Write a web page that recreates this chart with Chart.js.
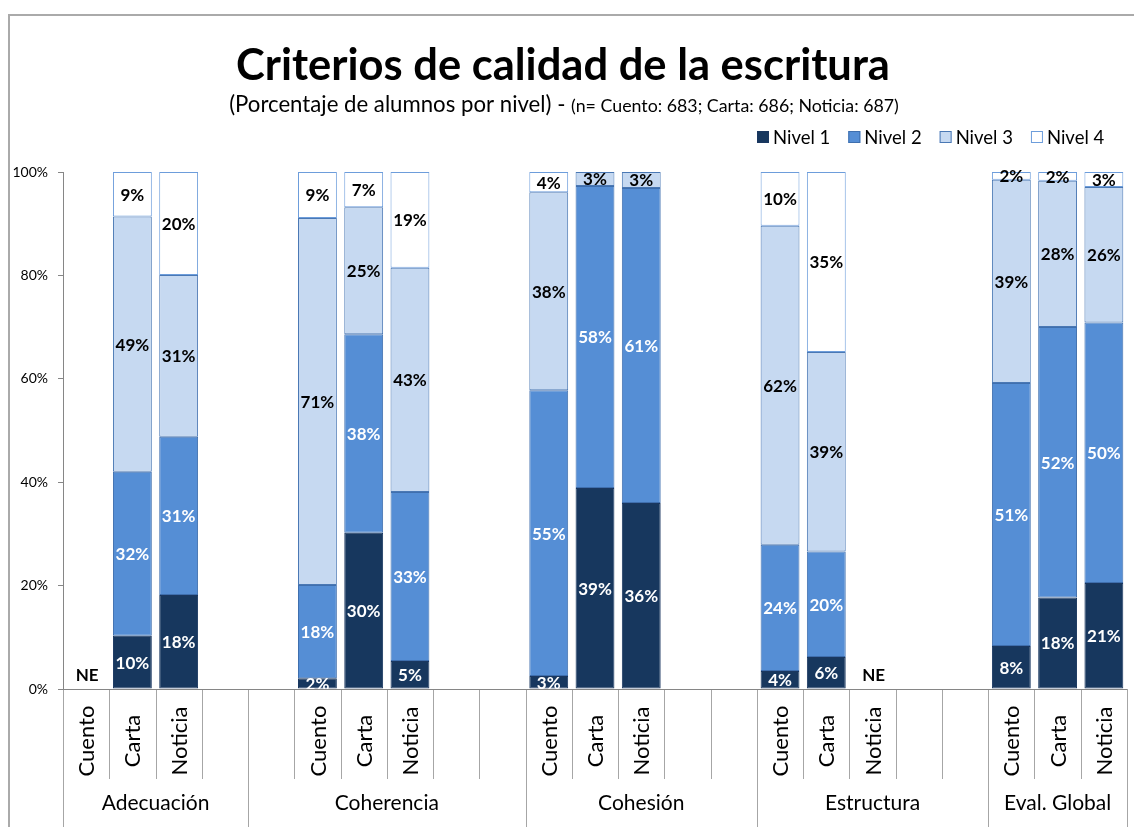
<!DOCTYPE html>
<html>
<head>
<meta charset="utf-8">
<script src="https://cdn.jsdelivr.net/npm/chart.js@4/dist/chart.umd.min.js"></script>
<style>
  html, body { margin: 0; padding: 0; background: #fff; }
  #wrap { width: 1134px; height: 827px; position: relative; }
</style>
</head>
<body>
<div id="wrap"><canvas id="grafico" width="1134" height="827"></canvas></div>
<script>
// categorias (con huecos vacios como en el original)
const categorias = [
  "Cuento", "Carta", "Noticia", "",
  "", "Cuento", "Carta", "Noticia", "", "",
  "Cuento", "Carta", "Noticia", "", "",
  "Cuento", "Carta", "Noticia", "", "",
  "Cuento", "Carta", "Noticia"
];
const grupos = ["Adecuación", "Coherencia", "Cohesión", "Estructura", "Eval. Global"];
const slotsPorGrupo = [4, 6, 5, 5, 3];
const sinEvaluar = [0, 17]; // NE

const nivel1 = [null, 10.3, 18.2, null, null, 2.1, 30.2, 5.4, null, null, 2.5, 38.9, 36.0, null, null, 3.5, 6.2, null, null, null, 8.3, 17.7, 20.5];
const nivel2 = [null, 31.7, 30.6, null, null, 18.0, 38.4, 32.7, null, null, 55.3, 58.4, 60.9, null, null, 24.4, 20.4, null, null, null, 50.9, 52.3, 50.4];
const nivel3 = [null, 49.4, 31.3, null, null, 71.0, 24.6, 43.4, null, null, 38.3, 2.7, 3.1, null, null, 61.7, 38.6, null, null, null, 39.3, 28.3, 26.2];
const nivel4 = [null, 8.6, 19.9, null, null, 8.9, 6.8, 18.5, null, null, 3.9, 0, 0, null, null, 10.4, 34.8, null, null, null, 1.5, 1.7, 2.9];

const ticksY = [0, 20, 40, 60, 80, 100];

const titulo = "Criterios de calidad de la escritura";
const subtitulo1 = "(Porcentaje de alumnos por nivel) - ";
const subtitulo2 = "(n= Cuento: 683; Carta: 686; Noticia: 687)";

const FUENTE = "Lato, 'Open Sans', sans-serif";

const etiquetasPlugin = {
  id: "etiquetas",
  afterDatasetsDraw(chart) {
    const ctx = chart.ctx;
    ctx.save();
    ctx.font = "bold 17px " + FUENTE;
    ctx.textAlign = "center";
    ctx.textBaseline = "middle";
    chart.data.datasets.forEach((ds, i) => {
      const meta = chart.getDatasetMeta(i);
      ctx.fillStyle = i < 2 ? "#ffffff" : "#000000";
      meta.data.forEach((bar, j) => {
        const v = ds.data[j];
        if (v === null || v === 0) return;
        ctx.fillText(Math.round(v) + "%", bar.x, (bar.y + bar.base) / 2 + 1);
      });
    });
    // NE
    const x = chart.scales.x;
    const y = chart.scales.y;
    ctx.fillStyle = "#000";
    sinEvaluar.forEach(idx => {
      ctx.fillText("NE", x.getPixelForValue(idx) + 1, y.getPixelForValue(0) - 13);
    });
    ctx.restore();
  }
};

const ejeXPlugin = {
  id: "ejeX",
  afterDraw(chart) {
    const ctx = chart.ctx;
    const x = chart.scales.x;
    const area = chart.chartArea;
    const medio = (x.getPixelForValue(1) - x.getPixelForValue(0)) / 2;
    ctx.save();
    ctx.strokeStyle = "#a6a6a6";
    ctx.lineWidth = 1;
    // limites de grupo
    const limites = [0];
    slotsPorGrupo.forEach(n => limites.push(limites[limites.length - 1] + n));
    for (let i = 0; i <= categorias.length; i++) {
      const px = Math.round(x.getPixelForValue(i) - medio) + 0.5;
      const largo = limites.includes(i);
      ctx.beginPath();
      ctx.moveTo(px, area.bottom);
      ctx.lineTo(px, largo ? 827 : area.bottom + 90);
      ctx.stroke();
    }
    // eje horizontal
    ctx.strokeStyle = "#868686";
    ctx.beginPath();
    ctx.moveTo(area.left, Math.round(area.bottom) + 0.5);
    ctx.lineTo(area.right, Math.round(area.bottom) + 0.5);
    ctx.stroke();

    // categorias rotadas
    ctx.fillStyle = "#000";
    ctx.font = "22px " + FUENTE;
    ctx.textAlign = "center";
    ctx.textBaseline = "middle";
    categorias.forEach((c, i) => {
      if (!c) return;
      ctx.save();
      ctx.translate(x.getPixelForValue(i) + 1, area.bottom + 52);
      ctx.rotate(-Math.PI / 2);
      ctx.fillText(c, 0, 0);
      ctx.restore();
    });
    // grupos
    ctx.font = "21px " + FUENTE;
    grupos.forEach((g, k) => {
      const a = x.getPixelForValue(limites[k]) - medio;
      const b = x.getPixelForValue(limites[k + 1]) - medio;
      ctx.fillText(g, (a + b) / 2, 803);
    });
    ctx.restore();
  }
};

const cabeceraPlugin = {
  id: "cabecera",
  beforeDraw(chart) {
    const ctx = chart.ctx;
    ctx.save();
    ctx.fillStyle = "#fff";
    ctx.fillRect(0, 0, chart.width, chart.height);
    // marco
    ctx.strokeStyle = "#aaaaaa";
    ctx.lineWidth = 2;
    ctx.beginPath();
    ctx.moveTo(9, chart.height);
    ctx.lineTo(9, 15);
    ctx.lineTo(chart.width, 15);
    ctx.stroke();
    ctx.restore();
  },
  afterDraw(chart) {
    const ctx = chart.ctx;
    ctx.save();
    ctx.fillStyle = "#000";
    ctx.textBaseline = "alphabetic";
    ctx.textAlign = "center";
    ctx.font = "bold 43.5px " + FUENTE;
    ctx.fillText(titulo, 563, 80);

    // subtitulo con dos tamaños
    ctx.textAlign = "left";
    ctx.font = "22.2px " + FUENTE;
    const w1 = ctx.measureText(subtitulo1).width;
    ctx.font = "17.8px " + FUENTE;
    const w2 = ctx.measureText(subtitulo2).width;
    let sx = 564 - (w1 + w2) / 2;
    ctx.font = "22.2px " + FUENTE;
    ctx.fillText(subtitulo1, sx, 112);
    ctx.font = "17.8px " + FUENTE;
    ctx.fillText(subtitulo2, sx + w1, 112);

    // leyenda
    ctx.font = "18.5px " + FUENTE;
    ctx.textBaseline = "middle";
    let lx = 757;
    chart.data.datasets.forEach(ds => {
      ctx.fillStyle = ds.backgroundColor;
      ctx.fillRect(lx, 131, 12, 12);
      ctx.strokeStyle = ds.borderColor;
      ctx.lineWidth = 1;
      ctx.strokeRect(lx + 0.5, 131.5, 11, 11);
      ctx.fillStyle = "#000";
      ctx.fillText(ds.label, lx + 16, 138);
      lx += 16 + ctx.measureText(ds.label).width + 18;
    });
    ctx.restore();
  }
};

const ctx = document.getElementById("grafico").getContext("2d");
new Chart(ctx, {
  type: "bar",
  data: {
    labels: categorias,
    datasets: [
      { label: "Nivel 1", data: nivel1, backgroundColor: "#17375e", borderColor: "#1a3760" },
      { label: "Nivel 2", data: nivel2, backgroundColor: "#558ed5", borderColor: "#3f6fae" },
      { label: "Nivel 3", data: nivel3, backgroundColor: "#c6d9f1", borderColor: "#4a78b4" },
      { label: "Nivel 4", data: nivel4, backgroundColor: "#ffffff", borderColor: "#6d9ddb" }
    ]
  },
  options: {
    responsive: false,
    animation: false,
    layout: { padding: { top: 172, bottom: 138, left: 0, right: 7 } },
    datasets: {
      bar: {
        borderWidth: 1,
        borderSkipped: false,
        categoryPercentage: 1,
        barPercentage: 0.84
      }
    },
    plugins: {
      legend: { display: false },
      title: { display: false },
      tooltip: { enabled: false }
    },
    scales: {
      x: {
        stacked: true,
        display: false
      },
      y: {
        stacked: true,
        min: 0,
        max: 100,
        afterFit(scale) { scale.width = 63; },
        afterBuildTicks(scale) { scale.ticks = ticksY.map(v => ({ value: v })); },
        border: { display: true, color: "#868686" },
        grid: { drawOnChartArea: false, drawTicks: true, tickLength: 5, color: "#868686" },
        ticks: {
          color: "#000",
          font: { family: FUENTE, size: 14 },
          padding: 10,
          callback: v => v + "%"
        }
      }
    }
  },
  plugins: [cabeceraPlugin, etiquetasPlugin, ejeXPlugin]
});
</script>
</body>
</html>
